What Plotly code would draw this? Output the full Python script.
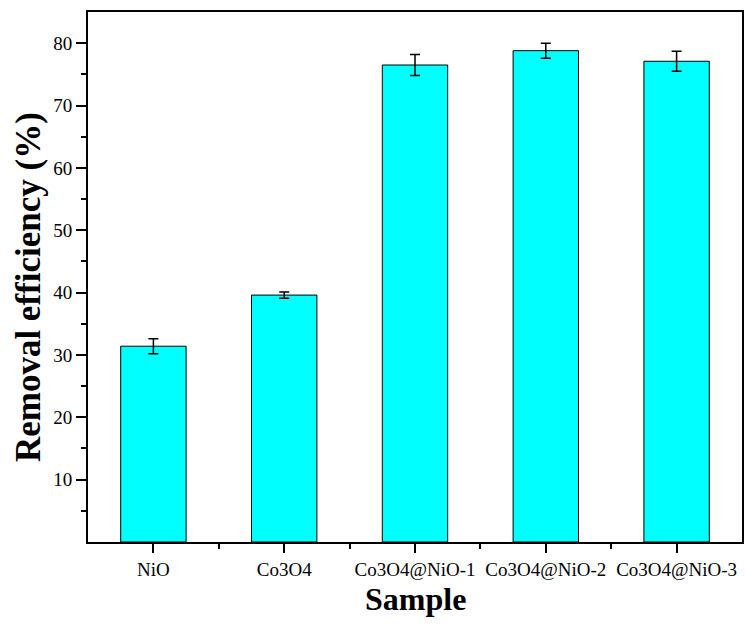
import plotly.graph_objects as go

categories = ["NiO", "Co3O4", "Co3O4@NiO-1", "Co3O4@NiO-2", "Co3O4@NiO-3"]
removal_eff = [31.4, 39.6, 76.5, 78.8, 77.1]
error_vals = [1.2, 0.5, 1.7, 1.2, 1.6]
y_ticks = [10, 20, 30, 40, 50, 60, 70, 80]

xpos = list(range(len(categories)))

fig = go.Figure()
fig.add_trace(go.Bar(
    x=xpos, y=removal_eff, width=0.5,
    marker=dict(color="#00FFFF", line=dict(color="black", width=1)),
    error_y=dict(type="data", array=error_vals, visible=True,
                 color="black", thickness=1.5, width=5),
))

font_family = "Liberation Serif"
fig.update_layout(
    width=745, height=626,
    margin=dict(l=88, r=3, t=12, b=84),
    paper_bgcolor="white", plot_bgcolor="white",
    showlegend=False,
    font=dict(family=font_family, size=19, color="black"),
)
fig.update_xaxes(
    range=[-0.5, 4.5], automargin=False,
    tickmode="array", tickvals=xpos, ticktext=categories,
    ticks="outside", ticklen=9, tickwidth=2, tickcolor="black",
    minor=dict(tickmode="array", tickvals=[0.5, 1.5, 2.5, 3.5],
               ticks="outside", ticklen=5, tickwidth=2, tickcolor="black"),
    showline=True, linecolor="black", linewidth=2, mirror=True,
    showgrid=False, zeroline=False,
    tickfont=dict(family=font_family, size=19, color="black"),
)
fig.update_yaxes(
    range=[0, 85], automargin=False,
    tickmode="array", tickvals=y_ticks,
    ticks="outside", ticklen=10, tickwidth=2, tickcolor="black",
    minor=dict(tickmode="array", tickvals=[5, 15, 25, 35, 45, 55, 65, 75],
               ticks="outside", ticklen=5, tickwidth=2, tickcolor="black"),
    showline=True, linecolor="black", linewidth=2, mirror=True,
    showgrid=False, zeroline=False,
    tickfont=dict(family=font_family, size=19, color="black"),
)
fig.add_annotation(
    text="<b>Sample</b>", xref="paper", yref="paper", x=0.5, y=0,
    xanchor="center", yanchor="middle", yshift=-57, showarrow=False,
    font=dict(family=font_family, size=32, color="black"),
)
fig.add_annotation(
    text="<b>Removal efficiency (%)</b>", xref="paper", yref="paper", x=0, y=0.481,
    xanchor="center", yanchor="middle", xshift=-60, textangle=-90, showarrow=False,
    font=dict(family=font_family, size=35, color="black"),
)

fig.write_html("out.html", config={"displayModeBar": False},
               post_script="document.body.style.margin='0';document.body.style.overflow='hidden';")
